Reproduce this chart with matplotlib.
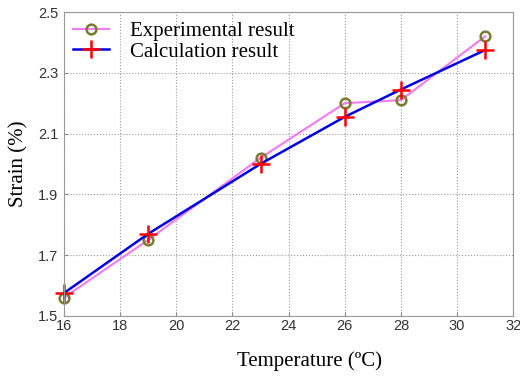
import numpy as np
import matplotlib.pyplot as plt

# data
temp = [16, 19, 23, 26, 28, 31]
strain_exp = [1.56, 1.75, 2.02, 2.20, 2.21, 2.42]
strain_calc = [1.575, 1.77, 2.00, 2.155, 2.245, 2.375]
xticks = np.arange(16, 33, 2)
yticks = [1.5, 1.7, 1.9, 2.1, 2.3, 2.5]

fig = plt.figure(figsize=(5.2, 3.76), dpi=100)
ax = fig.add_axes([0.123, 0.16, 0.864, 0.808])

ax.plot(temp, strain_exp, color='#f080f0', lw=1.6, marker='o', ms=7,
        mfc='none', mec='#7a7a30', mew=1.8, label='Experimental result', clip_on=False)
ax.plot(temp, strain_calc, color='#0000e0', lw=1.8, marker='+', ms=13,
        mec='red', mew=1.8, label='Calculation result', clip_on=False)

ax.set_xlim(16, 32)
ax.set_ylim(1.5, 2.5)
ax.set_xticks(xticks)
ax.set_yticks(yticks)
ax.set_xticklabels([str(t) for t in xticks], family='Liberation Sans', fontsize=10.5, color='#333333')
ax.set_yticklabels(['%.1f' % t for t in yticks], family='Liberation Sans', fontsize=10.5, color='#333333')
ax.tick_params(direction='in', length=3, color='#888888')
ax.tick_params(axis='x', pad=2)
ax.tick_params(axis='y', pad=4)
ax.grid(True, linestyle=':', color='#999999', lw=0.8)
for s in ax.spines.values():
    s.set_color('#999999')

ax.set_xlabel('Temperature (ºC)', family='Liberation Serif', fontsize=15)
ax.xaxis.set_label_coords(0.547, -0.115)
ax.set_ylabel('Strain (%)', family='Liberation Serif', fontsize=15)
ax.yaxis.set_label_coords(-0.078, 0.5)

ax.legend(loc='upper left', frameon=False, prop={'family': 'Liberation Serif', 'size': 15},
          handlelength=1.7, borderaxespad=0.15, labelspacing=0.05, handletextpad=1.0,
          borderpad=0.3)

fig.savefig('out.png', dpi=100)
